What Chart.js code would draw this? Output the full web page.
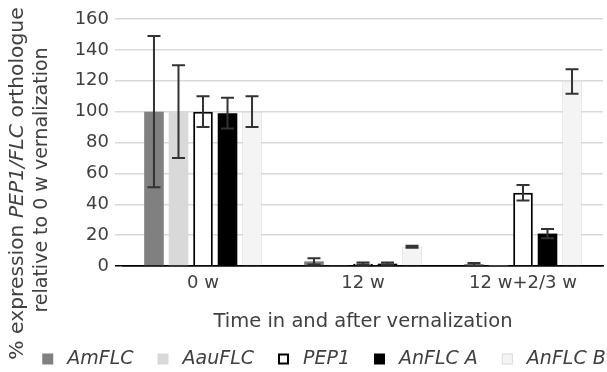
<!DOCTYPE html>
<html><head><meta charset="utf-8">
<script src="https://cdn.jsdelivr.net/npm/chart.js@4.4.1/dist/chart.umd.min.js"></script>
<style>html,body{margin:0;padding:0;background:#fff}#wrap{width:607px;height:372px}</style>
</head><body><div id="wrap"><canvas id="c" width="607" height="372"></canvas></div>
<script>
const categories = ['0 w', '12 w', '12 w+2/3 w'];
const seriesNames = ['AmFLC', 'AauFLC', 'PEP1', 'AnFLC A', 'AnFLC B'];
const amFLC  = [100, 3, 1.2];
const aauFLC = [100, 0.4, 0.3];
const pep1   = [100, 1.5, 47.5];
const anFLCA = [99, 1.5, 21];
const anFLCB = [100, 12.5, 119.5];
const amFLCErr  = [49, 2, 0.8];
const aauFLCErr = [30, 0, 0];
const pep1Err   = [10, 0.7, 5];
const anFLCAErr = [10, 0.7, 3];
const anFLCBErr = [10, 0.6, 8];
const yTicks = [0, 20, 40, 60, 80, 100, 120, 140, 160];

const TXT = '#404040';
const FONT = 'DejaVu Sans';

const errorBars = {
  id: 'errorBars',
  afterDatasetsDraw(chart) {
    const ctx = chart.ctx, ys = chart.scales.y;
    ctx.save();
    ctx.strokeStyle = '#333';
    ctx.lineWidth = 2;
    chart.data.datasets.forEach((ds, di) => {
      const meta = chart.getDatasetMeta(di);
      meta.data.forEach((el, i) => {
        const e = ds.errors[i];
        if (!e) return;
        const v = ds.data[i];
        const yt = ys.getPixelForValue(v + e), yb = ys.getPixelForValue(v - e);
        const x = el.x, w = 6.5;
        ctx.beginPath();
        ctx.moveTo(x, yt); ctx.lineTo(x, yb);
        ctx.moveTo(x - w, yt); ctx.lineTo(x + w, yt);
        ctx.moveTo(x - w, yb); ctx.lineTo(x + w, yb);
        ctx.stroke();
      });
    });
    ctx.restore();
  }
};

const yTitle = {
  id: 'yTitle',
  afterDraw(chart) {
    const ctx = chart.ctx;
    ctx.save();
    ctx.fillStyle = TXT;
    ctx.textBaseline = 'middle';
    const size1 = 20.3;
    const parts = [['% expression ', false], ['PEP1/FLC', true], [' orthologue', false]];
    ctx.translate(18, 183.5);
    ctx.rotate(-Math.PI / 2);
    let total = 0;
    parts.forEach(p => { ctx.font = (p[1] ? 'italic ' : '') + size1 + 'px "' + FONT + '"'; total += ctx.measureText(p[0]).width; });
    let x = -total / 2;
    ctx.textAlign = 'left';
    parts.forEach(p => { ctx.font = (p[1] ? 'italic ' : '') + size1 + 'px "' + FONT + '"'; ctx.fillText(p[0], x, 0); x += ctx.measureText(p[0]).width; });
    ctx.restore();
    ctx.save();
    ctx.fillStyle = TXT;
    ctx.textBaseline = 'middle';
    ctx.textAlign = 'center';
    ctx.font = '19px "' + FONT + '"';
    ctx.translate(42, 180);
    ctx.rotate(-Math.PI / 2);
    ctx.fillText('relative to 0 w vernalization', 0, 0);
    ctx.restore();
  }
};

const legendBar = {
  id: 'legendBar',
  afterDraw(chart) {
    const ctx = chart.ctx;
    const dss = chart.data.datasets;
    const box = 11, textOff = 25, gap = 24, cy = 359, cx = 324;
    ctx.save();
    ctx.font = 'italic 19px "' + FONT + '"';
    const widths = dss.map(d => ctx.measureText(d.label).width);
    const total = widths.reduce((a, w) => a + textOff + w, 0) + gap * (dss.length - 1);
    let x = cx - total / 2;
    dss.forEach((d, i) => {
      ctx.fillStyle = d.backgroundColor;
      ctx.fillRect(x, cy - box / 2, box, box);
      if (d.borderWidth > 0) {
        ctx.strokeStyle = d.borderColor;
        ctx.lineWidth = d.borderWidth;
        const h = d.borderWidth / 2;
        ctx.strokeRect(x + h, cy - box / 2 + h, box - d.borderWidth, box - d.borderWidth);
      }
      ctx.fillStyle = TXT;
      ctx.textBaseline = 'middle';
      ctx.textAlign = 'left';
      ctx.fillText(d.label, x + textOff, cy);
      x += textOff + widths[i] + gap;
    });
    ctx.restore();
  }
};

function ds(label, data, errors, bg, border, bw) {
  return { label, data, errors, backgroundColor: bg, borderColor: border, borderWidth: bw,
    categoryPercentage: 0.766, barPercentage: 0.8 };
}

new Chart(document.getElementById('c'), {
  type: 'bar',
  data: {
    labels: categories,
    datasets: [
      ds(seriesNames[0], amFLC, amFLCErr, '#808080', '#808080', 0),
      ds(seriesNames[1], aauFLC, aauFLCErr, '#d9d9d9', '#d9d9d9', 0),
      ds(seriesNames[2], pep1, pep1Err, '#ffffff', '#000000', 2),
      ds(seriesNames[3], anFLCA, anFLCAErr, '#000000', '#000000', 0),
      ds(seriesNames[4], anFLCB, anFLCBErr, '#f4f4f4', '#dcdcdc', 1)
    ]
  },
  options: {
    responsive: false,
    animation: false,
    devicePixelRatio: 1,
    layout: { padding: { left: 0, right: 4, top: 19, bottom: 38 } },
    plugins: {
      tooltip: { enabled: false },
      legend: { display: false }
    },
    scales: {
      x: {
        afterFit(scale) { scale.height = 68; },
        grid: { display: false, drawTicks: false },
        border: { display: true, color: '#000', width: 1.5 },
        ticks: { color: TXT, font: { family: FONT, size: 18 }, padding: 7 },
        title: { display: true, text: 'Time in and after vernalization', color: TXT,
          font: { family: FONT, size: 19.5 }, padding: { top: 0, bottom: 0 } }
      },
      y: {
        min: 0, max: 160,
        afterBuildTicks(scale) { scale.ticks = yTicks.map(v => ({ value: v })); },
        afterFit(scale) { scale.width = 123; },
        grid: { color: ctx => ctx.tick && ctx.tick.value === 0 ? '#000' : '#d9d9d9', lineWidth: 1.5, tickLength: 8 },
        border: { display: false },
        ticks: { color: TXT, font: { family: FONT, size: 18 }, padding: 6 }
      }
    }
  },
  plugins: [errorBars, yTitle, legendBar]
});
</script></body></html>
